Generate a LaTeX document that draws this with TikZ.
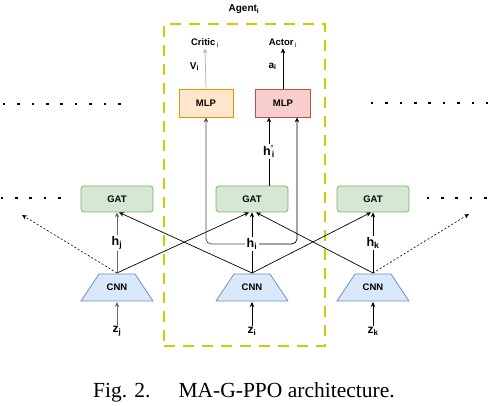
\documentclass[tikz,border=0pt]{standalone}
\usepackage{fontspec}
\setmainfont{Liberation Sans}
\newfontfamily\capfont{Liberation Serif}
\usetikzlibrary{arrows.meta}
\definecolor{gatfill}{HTML}{D5E8D4}
\definecolor{gatdraw}{HTML}{82B366}
\definecolor{cnnfill}{HTML}{DAE8FC}
\definecolor{cnndraw}{HTML}{6C8EBF}
\definecolor{critfill}{HTML}{FFE6CC}
\definecolor{critdraw}{HTML}{D79B00}
\definecolor{actfill}{HTML}{F8CECC}
\definecolor{actdraw}{HTML}{B85450}
\definecolor{agentyellow}{HTML}{CCCC00}
\begin{document}
\begin{tikzpicture}[x=1pt,y=-1pt,
  boxfont/.style={font=\fontsize{9.5}{10}\selectfont\bfseries},
  gat/.style={boxfont, draw=gatdraw, fill=gatfill, line width=0.8pt, rounded corners=3pt, minimum width=72pt, minimum height=26pt, inner sep=0pt},
  mlp/.style={boxfont, line width=0.8pt, minimum width=54pt, minimum height=28pt, inner sep=0pt},
  cnn/.style={boxfont, minimum width=73.6pt, minimum height=28.6pt, inner sep=0pt,
    path picture={
      \filldraw[fill=cnnfill, draw=cnndraw, line width=0.8pt]
        ([shift={(0.8pt,0.8pt)}]path picture bounding box.south west) --
        ([shift={(-0.8pt,0.8pt)}]path picture bounding box.south east) --
        ([shift={(-18.8pt,-0.8pt)}]path picture bounding box.north east) --
        ([shift={(18.8pt,-0.8pt)}]path picture bounding box.north west) -- cycle;
    }},
  arr/.style={-{Stealth[length=5pt,width=4.5pt]}, line width=0.7pt},
  hlab/.style={font=\fontsize{12.5}{12}\selectfont\bfseries, inner sep=1.5pt, fill=white, text=black},
  zlab/.style={font=\fontsize{12}{12}\selectfont\bfseries, inner sep=1pt},
  toplab/.style={font=\fontsize{9.5}{10}\selectfont\bfseries, inner sep=1pt},
  outlab/.style={font=\fontsize{10}{10}\selectfont\bfseries, inner sep=1pt, text=black},
  agentbox/.style={draw=agentyellow, line width=2.8pt, dash pattern=on 11pt off 8pt},
  dotsq/.style={fill=black}
]
\useasboundingbox (0,0) rectangle (488,406);

% agent box
\node[agentbox, minimum width=161pt, minimum height=322pt, inner sep=0pt] (agent) at (244.5,185) {};
\node[font=\fontsize{10}{10}\selectfont\bfseries, inner sep=1pt] (agentlab) at (244,9) {Agent\textsubscript{i}};

% dotted rows
\foreach \i in {0,...,8} {
  \fill[dotsq] (4+14.4*\i-1.3,104-1.3) rectangle ++(2.6,2.6);
  \fill[dotsq] (372+14.4*\i-1.3,103-1.3) rectangle ++(2.6,2.6);
}
\foreach \i in {0,...,4} {
  \fill[dotsq] (2+14.3*\i-1.3,198-1.3) rectangle ++(2.6,2.6);
  \fill[dotsq] (428+14.3*\i-1.3,198-1.3) rectangle ++(2.6,2.6);
}

% output labels
\node[toplab] (critic) at (205,43) {Critic\,\textsubscript{\normalfont i}};
\node[toplab] (actor) at (283,43) {Actor\,\textsubscript{\normalfont i}};

% MLPs
\node[mlp, draw=critdraw, fill=critfill] (mlpC) at (206,103) {MLP};
\node[mlp, draw=actdraw, fill=actfill, minimum width=55pt] (mlpA) at (283,103) {MLP};

% GATs
\node[gat] (gatJ) at (117,199) {GAT};
\node[gat] (gatI) at (252,199) {GAT};
\node[gat] (gatK) at (373,199) {GAT};

% CNNs
\node[cnn] (cnnJ) at (117,287.5) {CNN};
\node[cnn] (cnnI) at (252,287.5) {CNN};
\node[cnn] (cnnK) at (373,287.5) {CNN};

% inputs
\node[zlab] (zJ) at (117,331) {z\textsubscript{j}};
\node[zlab] (zI) at (252,331) {z\textsubscript{i}};
\node[zlab] (zK) at (373,331) {z\textsubscript{k}};

\coordinate (dl) at (22,215);
\coordinate (dr) at (469,214);

% input arrows
\draw[arr, black!60] (zJ) -- (cnnJ);
\draw[arr] (zI) -- (cnnI);
\draw[arr] (zK) -- (cnnK);

% crossing edges
\draw[arr] (cnnJ.north) -- ([xshift=-3pt]gatI.south);
\draw[arr] (cnnI.north) -- ([xshift=2pt]gatJ.south);
\draw[arr] (cnnI.north) -- ([xshift=-2pt]gatK.south);
\draw[arr] (cnnK.north) -- ([xshift=4pt]gatI.south);
\draw[arr, dash pattern=on 2pt off 2pt, line width=0.6pt] (cnnJ.north) -- (dl);
\draw[arr, dash pattern=on 2pt off 2pt, line width=0.6pt] (cnnK.north) -- (dr);

% vertical CNN -> GAT
\draw[arr, black!60] (cnnJ.north) -- node[hlab] (hJ) {h\textsubscript{j}} (gatJ.south);
\draw[arr] (cnnI.north) -- node[hlab, pos=0.48] (hI) {h\textsubscript{i}} (gatI.south);
\draw[arr] (cnnK.north) -- node[hlab] (hK) {h\textsubscript{k}} (gatK.south);

% h_i to MLPs
\draw[arr, rounded corners=5pt, black!70] (hI.west) -| (mlpC.south);
\draw[arr, rounded corners=5pt] (hI.east) -| ([xshift=14pt]mlpA.south);

% GAT_i -> actor MLP
\draw[arr] ([xshift=17pt]gatI.north) -- node[hlab, pos=0.5] (hIp) {h\textsuperscript{'}\kern-0.35em\textsubscript{ i}} ([xshift=-14pt]mlpA.south);

% outputs
\draw[arr, black!30] (mlpC.north) -- node[outlab, left=5pt, pos=0.55] (vI) {V\textsubscript{i}} (critic.south);
\draw[arr] (mlpA.north) -- node[outlab, left=5pt, pos=0.55] (aI) {a\textsubscript{i}} (actor.south);

% caption
\node[font=\capfont\fontsize{21.5}{22}\selectfont, anchor=base west, inner sep=0pt] (cap) at (93,398) {Fig. 2.\hspace{28pt}MA-G-PPO architecture.};
\end{tikzpicture}
\end{document}
